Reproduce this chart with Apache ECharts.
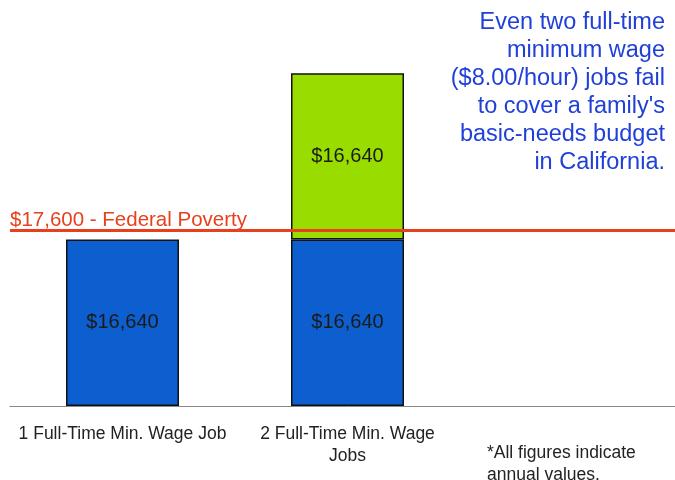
<!DOCTYPE html>
<html><head><meta charset="utf-8">
<script src="https://cdn.jsdelivr.net/npm/echarts@6/dist/echarts.min.js"></script>
<style>html,body{margin:0;padding:0;background:#fff;overflow:hidden}#c{width:685px;height:480px}</style>
</head><body><div id="c"></div>
<script>
var categories = ['1 Full-Time Min. Wage Job', '2 Full-Time Min. Wage\nJobs', ''];
var firstJob = [16640, 16640, null];
var secondJob = [null, 16640, null];
var povertyLine = 17600;
var povertyLabel = '$17,600 - Federal Poverty';
var headline = "Even two full-time\nminimum wage\n($8.00/hour) jobs fail\nto cover a family's\nbasic-needs budget\nin California.";
var footnote = '*All figures indicate\nannual values.';

var chart = echarts.init(document.getElementById('c'));
var fmt = function (p) { return '$' + p.value.toLocaleString('en-US'); };
chart.setOption({
  animation: false,
  textStyle: { fontFamily: 'Liberation Sans, Arial, sans-serif' },
  grid: { left: 10, top: 6, right: 0, height: 400 },
  xAxis: {
    type: 'category', data: categories,
    axisLine: { lineStyle: { color: '#888', width: 1 } },
    axisTick: { length: 6, lineStyle: { color: '#888' } },
    axisLabel: { color: '#222', fontSize: 17.5, margin: 17, lineHeight: 22, interval: 0 }
  },
  yAxis: { type: 'value', min: 0, max: 40000, show: false, splitLine: { show: false } },
  series: [
    {
      type: 'bar', stack: 's', data: firstJob, barWidth: 113,
      itemStyle: { color: '#0d5fcf', borderColor: '#111', borderWidth: 1.5 },
      label: { show: true, position: 'inside', formatter: fmt, color: '#1a1a1a', fontSize: 20 },
      markLine: {
        symbol: 'none', silent: true,
        lineStyle: { color: '#e8401c', width: 3, type: 'solid' },
        label: { show: true, position: 'insideStartTop', formatter: povertyLabel, color: '#e8401c', fontSize: 20.5, distance: [0, -1] },
        data: [{ yAxis: povertyLine }]
      }
    },
    {
      type: 'bar', stack: 's', data: secondJob, barWidth: 113,
      itemStyle: { color: '#99dd00', borderColor: '#111', borderWidth: 1.5 },
      label: { show: true, position: 'inside', formatter: fmt, color: '#1a1a1a', fontSize: 20 }
    }
  ],
  graphic: [
    { type: 'text', x: 665, y: 9, style: { text: headline, fill: '#2040d8', lineHeight: 28, align: 'right', verticalAlign: 'top', font: '23.5px Liberation Sans' } },
    { type: 'text', x: 487, y: 442, style: { text: footnote, fill: '#222', lineHeight: 22, verticalAlign: 'top', font: '17.5px Liberation Sans' } }
  ]
});
</script></body></html>
